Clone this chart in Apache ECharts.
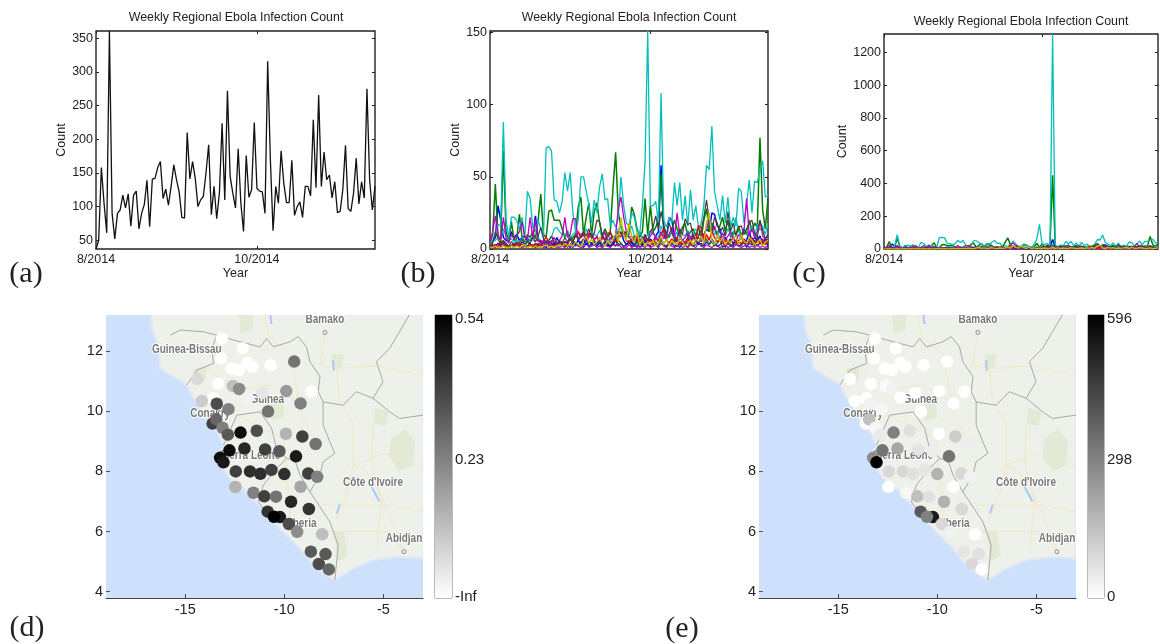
<!DOCTYPE html>
<html><head><meta charset="utf-8">
<style>html,body{margin:0;padding:0;background:#fff}#c{width:1160px;height:644px}</style>
<script src="https://cdn.jsdelivr.net/npm/echarts@6/dist/echarts.min.js"></script>
</head><body><div id="c"></div>
<script>
const chartTitle = 'Weekly Regional Ebola Infection Count';
const xTickNames = ['8/2014', '10/2014'];
const xTickWeeks = [0, 60];
const totalCount = [37,50,158,105,61,361,90,52,90,95,117,98,119,71,117,123,67,90,103,139,70,141,142,158,167,112,126,102,130,162,140,122,84,83,210,141,167,142,100,110,115,150,192,88,130,82,120,224,110,272,145,120,98,186,105,63,176,114,125,225,127,123,122,90,316,170,64,130,105,183,135,106,106,169,87,100,107,84,130,130,116,229,128,266,130,181,140,147,113,137,91,93,125,191,97,93,120,172,104,137,113,275,140,95,130];
const cyanMain = [5,6,10,17,16,88,20,8,22,22,20,14,22,8,40,35,15,12,20,14,8,70,71,68,34,33,25,33,53,40,53,25,12,20,50,50,40,30,18,34,25,43,52,34,35,16,20,15,22,50,30,18,16,25,22,12,10,30,60,151,30,30,33,18,108,20,15,22,18,46,30,46,20,37,16,41,20,30,14,18,30,58,55,85,40,30,20,37,18,36,15,22,16,42,40,18,31,48,25,47,46,55,61,36,37];
const cyanLow = [3,5,6,8,7,14,9,6,7,5,6,5,8,6,5,7,6,5,8,6,5,4,6,8,14,15,12,10,9,13,8,10,12,7,11,9,14,8,12,10,9,13,7,8,11,6,9,8,14,15,8,12,10,16,9,7,12,8,10,9,13,10,9,8,16,10,12,9,11,8,12,7,10,9,13,8,11,14,10,12,8,15,18,16,10,12,8,11,9,14,10,8,22,12,9,11,14,10,16,8,17,13,16,10,18];
const greenMain = [4,10,45,8,6,68,12,5,19,6,7,24,8,5,10,8,12,7,20,38,10,8,26,27,20,20,20,14,8,12,6,8,10,29,36,10,22,32,9,26,32,18,9,14,10,12,42,67,25,15,12,9,10,29,24,14,8,12,35,10,30,12,15,20,52,16,10,8,12,20,14,9,15,18,8,12,14,9,16,7,20,28,12,18,14,10,16,22,12,20,8,12,10,16,9,14,10,20,12,18,15,77,27,14,35];
const blueMain = [3,5,8,30,20,8,6,5,12,8,10,6,8,9,7,6,8,23,6,5,4,3,5,4,3,8,4,3,5,4,9,5,3,6,4,7,3,5,4,3,4,6,3,5,3,2,4,7,9,12,6,3,4,5,3,8,4,3,6,5,7,5,9,12,58,10,6,22,20,9,5,7,6,4,8,5,10,6,4,8,10,14,12,25,24,16,14,6,8,5,7,4,6,5,9,4,6,12,5,8,6,9,4,7,5];
const magentaMain = [5,12,23,10,6,22,8,4,10,7,9,12,19,8,6,22,7,20,5,6,4,6,3,5,8,4,6,9,22,8,10,21,21,6,9,12,5,8,11,6,9,5,7,12,4,8,6,10,28,36,22,12,8,9,6,10,5,8,7,6,9,12,8,6,12,7,9,10,15,8,25,9,6,8,12,7,10,6,8,5,9,14,20,12,16,8,7,11,6,9,12,7,5,10,8,13,35,9,14,8,12,20,9,7,10];
const redMain = [1,2,3,2,5,3,2,1,2,3,2,4,3,2,1,3,2,4,3,2,6,8,5,3,2,4,3,5,2,3,7,5,9,12,8,10,6,11,9,7,8,5,9,6,10,12,7,5,8,9,12,6,4,7,5,8,3,5,9,4,6,3,8,5,10,14,6,4,7,5,8,3,6,4,7,3,9,5,16,15,4,10,6,12,8,5,7,4,6,3,5,8,4,6,3,7,5,4,8,3,6,4,7,3,5];
const darkMain = [2,4,12,7,3,6,4,2,5,3,5,4,7,3,6,4,8,5,9,15,7,4,6,9,5,3,6,4,8,5,7,5,10,6,8,12,9,14,7,11,20,19,9,6,8,11,7,9,12,11,12,11,8,6,9,5,7,4,10,6,12,15,23,14,26,16,10,18,12,6,8,14,10,21,17,18,8,5,9,13,22,34,20,12,22,18,11,15,9,26,12,18,9,15,16,10,14,18,20,11,8,20,13,7,10];
const yellowMain = [1,1,2,1,1,2,1,1,2,1,2,1,2,3,1,2,1,2,1,1,2,3,1,2,1,2,3,2,4,2,3,2,5,3,2,6,9,4,7,3,5,8,4,2,6,3,7,11,5,22,10,6,18,9,4,12,3,7,2,5,3,6,2,4,9,3,7,2,6,4,3,8,5,2,4,6,3,7,5,9,4,18,25,6,3,10,5,8,3,6,4,7,9,3,10,5,4,8,6,3,4,7,2,5,6];
const blueLow = [1,3,2,4,2,5,3,1,2,4,3,2,5,3,2,4,1,3,2,5,2,1,3,2,4,1,3,5,2,3,1,4,2,6,3,1,4,2,3,5,2,4,1,3,2,5,3,6,2,4,1,3,5,2,3,1,4,2,5,3,2,6,3,1,8,3,2,5,4,2,3,1,4,2,5,3,2,6,3,4,2,5,3,7,4,2,3,5,1,4,3,2,6,2,3,5,1,4,3,6,2,4,3,5,2];
const greenLow = [2,1,3,2,6,4,2,1,3,2,4,3,1,2,5,2,3,1,4,3,2,5,3,6,4,3,5,2,4,1,3,6,4,2,5,3,7,2,4,6,3,5,2,4,7,3,5,2,6,4,2,3,6,4,2,5,1,3,7,2,4,3,5,2,6,3,1,4,3,6,2,5,3,4,1,6,2,3,5,2,4,7,3,5,2,4,6,1,3,5,2,4,3,6,2,5,3,7,4,2,9,5,3,6,4];
const magentaLow = [1,2,1,3,1,2,3,1,2,1,3,2,1,2,1,3,2,1,2,3,1,2,1,1,3,2,1,2,1,3,2,1,3,2,1,2,4,1,2,3,1,2,1,3,2,1,3,2,4,1,2,1,3,1,2,3,1,2,1,3,1,2,3,1,4,2,1,3,2,1,2,3,1,2,1,3,2,1,4,2,1,3,2,1,3,2,1,2,3,1,2,1,3,2,1,2,3,1,2,1,3,1,2,1,2];
const cyanTallWeek = 64, cyanTallValue = 1312, greenTallValue = 450;

const panelNames = ['(a)', '(b)', '(c)', '(d)', '(e)'];
const dotLon = [-13.15,-12.10,-13.19,-9.50,-11.86,-11.61,-12.65,-12.28,-10.69,-14.41,-13.34,-12.60,-12.28,-11.11,-9.90,-8.62,-11.85,-13.59,-14.16,-13.41,-9.18,-12.82,-10.82,-13.62,-13.44,-13.12,-12.85,-12.21,-11.39,-9.92,-9.09,-8.42,-12.01,-12.77,-10.97,-10.25,-13.24,-13.07,-9.41,-12.45,-11.73,-11.21,-10.65,-10.00,-8.79,-8.34,-12.47,-9.18,-11.56,-11.01,-10.42,-9.66,-8.76,-10.84,-10.22,-10.52,-9.77,-9.35,-8.09,-8.66,-7.92,-8.26,-7.75];
const dotLat = [12.42,12.09,11.76,11.65,11.61,11.48,11.42,11.37,11.53,11.07,10.91,10.84,10.74,10.61,10.67,10.65,10.45,10.43,10.34,10.25,10.26,10.07,9.99,9.59,9.73,9.45,9.22,9.29,9.35,9.25,9.16,8.91,8.76,8.70,8.73,8.67,8.45,8.30,8.50,8.00,8.00,7.92,8.05,7.91,7.93,7.82,7.48,7.49,7.29,7.17,7.16,6.99,6.75,6.66,6.48,6.49,6.25,5.99,5.91,5.33,5.25,4.92,4.74];
const dotShadeD = [0,0,0,.55,0,0,0,0,0,.15,0,.25,.45,.1,.4,0,.05,0,.2,.7,.5,.5,.55,.75,.6,.5,.65,.95,.7,.3,.75,.55,.85,.95,.75,.65,.95,.9,.9,.75,.82,.82,.75,.82,.75,.5,.3,.35,.5,.75,.55,.85,.8,.8,.9,1,.7,.45,.25,.65,.65,.7,.6];
const dotCountE = [0,0,0,0,0,0,0,0,0,0,0,12,30,0,0,0,0,0,0,30,0,18,0,12,149,18,48,298,72,0,119,42,209,328,60,42,268,596,328,90,90,72,60,179,90,30,0,0,18,149,72,179,90,387,536,298,90,30,0,60,72,90,0];

const colorbarStops = [0.003, 0.487, 0.985];
const colorbarNamesD = ['-Inf', '0.23', '0.54'];
const colorbarNamesE = ['0', '298', '596'];

const coast = [[-16.76,13.4],[-16.68,12.75],[-16.51,12.42],[-16.34,12.14],[-16.26,11.42],[-15.59,11.15],[-14.92,10.87],[-14.66,10.54],[-14.33,10.2],[-13.91,9.7],[-13.41,9.32],[-13.07,8.87],[-13.32,8.32],[-12.74,7.76],[-11.9,7.32],[-10.89,6.6],[-10.22,6.1],[-9.38,5.55],[-8.37,4.77],[-7.45,4.38],[-6.53,4.77],[-5.52,5.05],[-4.18,5.16],[-3,5.1],[-3,13.4]];
const greenPatches = [
  [[-4.6,9.1],[-3.9,9.4],[-3.4,9.0],[-3.5,8.2],[-4.2,8.0],[-4.7,8.5]],
  [[-7.5,6.0],[-7.0,6.0],[-6.8,5.2],[-7.3,5.0]],
  [[-10.9,10.4],[-10.1,10.5],[-10.0,9.8],[-10.6,9.7]],
  [[-12.3,13.2],[-11.6,13.2],[-11.6,12.7],[-12.2,12.6]],
  [[-5.4,10.1],[-4.7,10.0],[-4.9,9.5],[-5.5,9.6]],
  [[-7.6,11.9],[-7.0,11.9],[-7.1,11.4],[-7.6,11.5]],
  [[-14.6,11.4],[-13.9,11.5],[-14.0,11.0],[-14.5,10.9]]
];
const roads = [
  [[-7.95,12.62],[-8.2,11.53],[-7.37,11.42],[-5.35,11.5],[-3.0,11.2]],
  [[-7.37,11.42],[-7.2,10.31],[-6.53,9.59],[-6.53,8.21],[-6.86,7.21],[-7.37,6.43]],
  [[-8.04,6.88],[-6.36,6.88],[-4.68,6.88],[-3,6.66]],
  [[-5.86,7.99],[-5.18,7.32],[-3.93,5.33]],
  [[-14,11.53],[-12.57,10.7],[-10.72,10.87],[-9.55,10.43],[-9.04,9.76],[-8.2,8.65]],
  [[-12.82,9.98],[-10.05,9.1],[-9.88,7.99],[-9.71,6.43]],
  [[-8.1,6.0],[-4.7,6.0],[-3.93,5.33]],
  [[-5.86,7.99],[-6.53,8.21],[-5.0,8.6],[-3,8.2]],
  [[-5.5,9.6],[-5.6,8.3],[-5.1,7.0],[-5.3,5.5]],
  [[-11.0,13.2],[-10.8,12.5],[-9.7,11.9],[-9.3,10.4]]
];
const borders = [
  [[-15.75,12.53],[-15.25,12.7],[-14.08,12.64],[-13.41,12.53],[-12.57,12.37],[-11.22,12.14],[-10.89,12.42],[-10.55,12.14],[-9.71,12.31],[-9.3,12.48],[-8.88,12.14],[-8.71,11.65],[-8.2,11.15],[-8.29,10.65],[-8.04,10.31],[-7.03,10.2],[-6.36,10.65],[-5.52,10.43],[-4.68,9.98],[-4.18,9.76],[-3,9.87]],
  [[-8.04,10.31],[-8.04,9.54],[-7.7,8.98],[-7.45,8.6],[-8.04,8.32],[-8.2,7.88],[-8.71,7.32],[-8.37,6.99],[-7.7,6.32],[-7.28,5.55],[-7.45,4.38]],
  [[-13.07,8.87],[-12.4,9.87],[-11.22,9.98],[-10.64,9.43],[-10.39,8.76],[-9.88,8.43],[-10.39,8.1],[-11.06,7.54],[-11.31,6.99],[-10.89,6.6]],
  [[-9.88,8.43],[-9.46,8.37],[-9.21,7.88],[-8.71,7.32]],
  [[-14.92,10.87],[-14.41,11.37],[-13.57,11.59],[-13.66,12.09],[-13.41,12.53]],
  [[-5.52,10.43],[-5.02,10.98],[-5.35,11.65],[-4.68,12.09],[-3.51,13.4]]
];
const lakes = [
  [[-5.6,7.5],[-5.4,7.25],[-5.2,7.0]],
  [[-7.2,6.9],[-7.35,6.6]],
  [[-10.7,13.2],[-10.65,12.9]],
  [[-7.55,11.7],[-7.5,11.35]]
];
const placeNames = ['Bamako','Guinea-Bissau','Guinea','Conakry','Sierra Leone',"Côte d'Ivoire",'Liberia','Abidjan'];
const placeLon = [-7.95,-14.92,-10.86,-13.74,-11.73,-5.52,-9.2,-3.96];
const placeLat = [13.03,12.03,10.39,9.93,8.52,7.63,6.27,5.75];
const townLon = [-7.95,-3.96];
const townLat = [12.62,5.33];

const font = 'Liberation Sans';
const inkDark = '#222';
const grids = [], xAxes = [], yAxes = [], series = [], titles = [], visualMaps = [];

function linePanel(box, yMin, yMax, yTicks, yGap, lines) {
  const g = grids.length;
  grids.push(Object.assign({containLabel:false, show:true, borderColor:'#222', borderWidth:1.4, backgroundColor:'#fff'}, box));
  const xi = xAxes.length, yi = yAxes.length;
  const hiddenLine = {show:false, onZero:false};
  xAxes.push({gridIndex:g, type:'value', min:0, max:104, position:'bottom', name:'Year', nameLocation:'middle', nameGap:13,
    nameTextStyle:{fontFamily:font,fontSize:12.5,color:inkDark},
    axisLine:hiddenLine, splitLine:{show:false},
    axisTick:{inside:true,length:3,customValues:xTickWeeks,lineStyle:{color:'#222'}},
    axisLabel:{customValues:xTickWeeks,margin:4,fontFamily:font,fontSize:12.5,color:inkDark,formatter:v=>xTickNames[xTickWeeks.indexOf(v)]||''}});
  xAxes.push({gridIndex:g, type:'value', min:0, max:104, position:'top', axisLine:hiddenLine, splitLine:{show:false},
    axisTick:{inside:true,length:3,customValues:xTickWeeks,lineStyle:{color:'#222'}}, axisLabel:{show:false}});
  yAxes.push({gridIndex:g, type:'value', min:yMin, max:yMax, position:'left', name:'Count', nameLocation:'middle', nameGap:yGap,
    nameTextStyle:{fontFamily:font,fontSize:12.5,color:inkDark},
    axisLine:hiddenLine, splitLine:{show:false},
    axisTick:{inside:true,length:3,customValues:yTicks,lineStyle:{color:'#222'}},
    axisLabel:{customValues:yTicks,margin:3,fontFamily:font,fontSize:12.5,color:inkDark,formatter:v=>String(v)}});
  yAxes.push({gridIndex:g, type:'value', min:yMin, max:yMax, position:'right', axisLine:hiddenLine, splitLine:{show:false},
    axisTick:{inside:true,length:3,customValues:yTicks,lineStyle:{color:'#222'}}, axisLabel:{show:false}});
  lines.forEach(l => series.push({type:'line', xAxisIndex:xi, yAxisIndex:yi, showSymbol:false, animation:false, clip:true,
    data:l.values.map((v,i)=>[i,v]), lineStyle:{color:l.color,width:l.width||1.2}, itemStyle:{color:l.color}, z:2}));
}

function pathSeries(xi, yi, shapes, kind, style, z) {
  series.push({type:'custom', coordinateSystem:'cartesian2d', xAxisIndex:xi, yAxisIndex:yi, clip:true, silent:true, animation:false, z,
    data:shapes.map((s,i)=>[s[0][0], s[0][1], i]),
    encode:{x:0,y:1},
    renderItem:(params, api) => ({type:kind, shape:{points:shapes[api.value(2)].map(p=>api.coord(p))}, style})});
}

function mapPanel(box, cbBox, dotValues, visMax, cbNames) {
  const g = grids.length;
  grids.push(Object.assign({containLabel:false, show:true, borderWidth:0, backgroundColor:'#cde0fc'}, box));
  const xi = xAxes.length, yi = yAxes.length;
  const mapTickX = [-15,-10,-5], mapTickY = [4,6,8,10,12];
  xAxes.push({gridIndex:g, type:'value', min:-19, max:-3, axisLine:{show:true,onZero:false,lineStyle:{color:'#444',width:1}}, splitLine:{show:false},
    axisTick:{inside:true,length:4,customValues:mapTickX,lineStyle:{color:'#444'}},
    axisLabel:{customValues:mapTickX,margin:4,fontFamily:font,fontSize:14.5,color:inkDark}});
  yAxes.push({gridIndex:g, type:'value', min:3.79, max:13.2, axisLine:{show:false,onZero:false}, splitLine:{show:false},
    axisTick:{inside:true,length:4,customValues:mapTickY,lineStyle:{color:'#555'}},
    axisLabel:{customValues:mapTickY,margin:3,fontFamily:font,fontSize:14.5,color:inkDark}});
  pathSeries(xi, yi, [coast], 'polygon', {fill:'#eef0ea', stroke:'#dfe9f6', lineWidth:2}, 1);
  pathSeries(xi, yi, greenPatches, 'polygon', {fill:'#e2ead6'}, 2);
  pathSeries(xi, yi, roads, 'polyline', {fill:'none', stroke:'#f4e7c4', lineWidth:1}, 3);
  pathSeries(xi, yi, lakes, 'polyline', {fill:'none', stroke:'#a9caf7', lineWidth:2}, 3);
  pathSeries(xi, yi, borders, 'polyline', {fill:'none', stroke:'#a8a8a8', lineWidth:1}, 4);
  series.push({type:'custom', coordinateSystem:'cartesian2d', xAxisIndex:xi, yAxisIndex:yi, clip:true, silent:true, animation:false, z:5,
    data:placeNames.map((n,i)=>[placeLon[i],placeLat[i],n]), encode:{x:0,y:1},
    renderItem:(params, api) => {
      const c = api.coord([api.value(0), api.value(1)]);
      return {type:'text', x:c[0], y:c[1], scaleX:0.83, style:{text:placeNames[params.dataIndex], fill:'#777', stroke:'#fff', lineWidth:2,
        font:'bold 12px "Liberation Sans"', textAlign:'center', textVerticalAlign:'middle', align:'center', verticalAlign:'middle'}};
    }});
  series.push({type:'scatter', xAxisIndex:xi, yAxisIndex:yi, symbol:'circle', symbolSize:4, silent:true, animation:false, z:5,
    data:townLon.map((v,i)=>[v,townLat[i]]), itemStyle:{color:'#eef0ea',borderColor:'#777',borderWidth:1}});
  const dotIdx = series.length;
  series.push({type:'scatter', xAxisIndex:xi, yAxisIndex:yi, symbol:'circle', symbolSize:12.5, silent:true, animation:false, z:6,
    data:dotValues.map((v,i)=>[dotLon[i],dotLat[i],v]), itemStyle:{opacity:1}});
  visualMaps.push({show:false, type:'continuous', seriesIndex:dotIdx, dimension:2, min:0, max:visMax, inRange:{color:['#ffffff','#000000']}});
  const cg = grids.length;
  grids.push(Object.assign({containLabel:false, show:true, borderColor:'#777', borderWidth:1, backgroundColor:'#fff'}, cbBox));
  const cx = xAxes.length, cy = yAxes.length;
  xAxes.push({gridIndex:cg, type:'category', data:[''], axisLine:{show:false}, axisTick:{show:false}, axisLabel:{show:false}});
  yAxes.push({gridIndex:cg, type:'value', position:'right', min:0, max:1, axisLine:{show:false,onZero:false}, splitLine:{show:false},
    axisTick:{inside:true,length:3,customValues:colorbarStops,lineStyle:{color:'#555'}},
    axisLabel:{customValues:colorbarStops,margin:3,fontFamily:font,fontSize:15,color:inkDark,formatter:v=>cbNames[colorbarStops.indexOf(v)]||''}});
  series.push({type:'bar', xAxisIndex:cx, yAxisIndex:cy, barWidth:'100%', silent:true, animation:false, data:[1], z:1,
    itemStyle:{color:new echarts.graphic.LinearGradient(0,0,0,1,[{offset:0,color:'#000'},{offset:1,color:'#fff'}])}});
}

const linesB = [
  {values:blueLow,color:'#0000ff'},{values:greenLow,color:'#007f00'},{values:magentaLow,color:'#bf00bf'},
  {values:blueMain,color:'#0000ff',width:1.5},{values:greenMain,color:'#007f00',width:1.5},{values:cyanLow,color:'#00bfbf'},
  {values:cyanMain,color:'#00bfbf',width:1.3},{values:redMain,color:'#ff0000',width:1.5},{values:magentaMain,color:'#bf00bf',width:1.3},
  {values:darkMain,color:'#404040',width:1.2},{values:yellowMain,color:'#bfbf00',width:1.4}
];
const cyanForC = cyanMain.map((v,i)=>i===cyanTallWeek?cyanTallValue:v);
const greenForC = greenMain.map((v,i)=>i===cyanTallWeek?greenTallValue:v);
const linesC = linesB.map(l => l.values===cyanMain ? {...l,values:cyanForC} : l.values===greenMain ? {...l,values:greenForC} : l);

linePanel({left:96,top:31,width:279,height:218}, 37, 361, [50,100,150,200,250,300,350], 16, [{values:totalCount,color:'#111',width:1.3}]);
linePanel({left:490,top:31,width:278,height:218}, 0, 151, [0,50,100,150], 17, linesB);
linePanel({left:884,top:34,width:274,height:215}, 0, 1312, [0,200,400,600,800,1000,1200], 18, linesC);

mapPanel({left:106,top:315,width:317,height:283}, {left:435,top:315,width:17,height:283}, dotShadeD, 1, colorbarNamesD);
mapPanel({left:759,top:315,width:317,height:283}, {left:1088,top:315,width:16,height:283}, dotCountE, 596, colorbarNamesE);

[[231,7],[624,7],[1016,11]].forEach(p => titles.push({text:chartTitle, left:p[0], top:p[1], textAlign:'center',
  textStyle:{fontFamily:font,fontSize:12.4,fontWeight:'normal',color:inkDark}}));
[[21,254],[413,254],[804,254],[22,608],[677,609]].forEach((p,i) => titles.push({text:panelNames[i], left:p[0], top:p[1], textAlign:'center',
  textStyle:{fontFamily:'Liberation Serif',fontSize:30,fontWeight:'normal',color:'#222'}}));

const chart = echarts.init(document.getElementById('c'), null, {renderer:'canvas'});
chart.setOption({animation:false, backgroundColor:'#fff', title:titles, grid:grids, xAxis:xAxes, yAxis:yAxes, visualMap:visualMaps, series});
</script></body></html>
